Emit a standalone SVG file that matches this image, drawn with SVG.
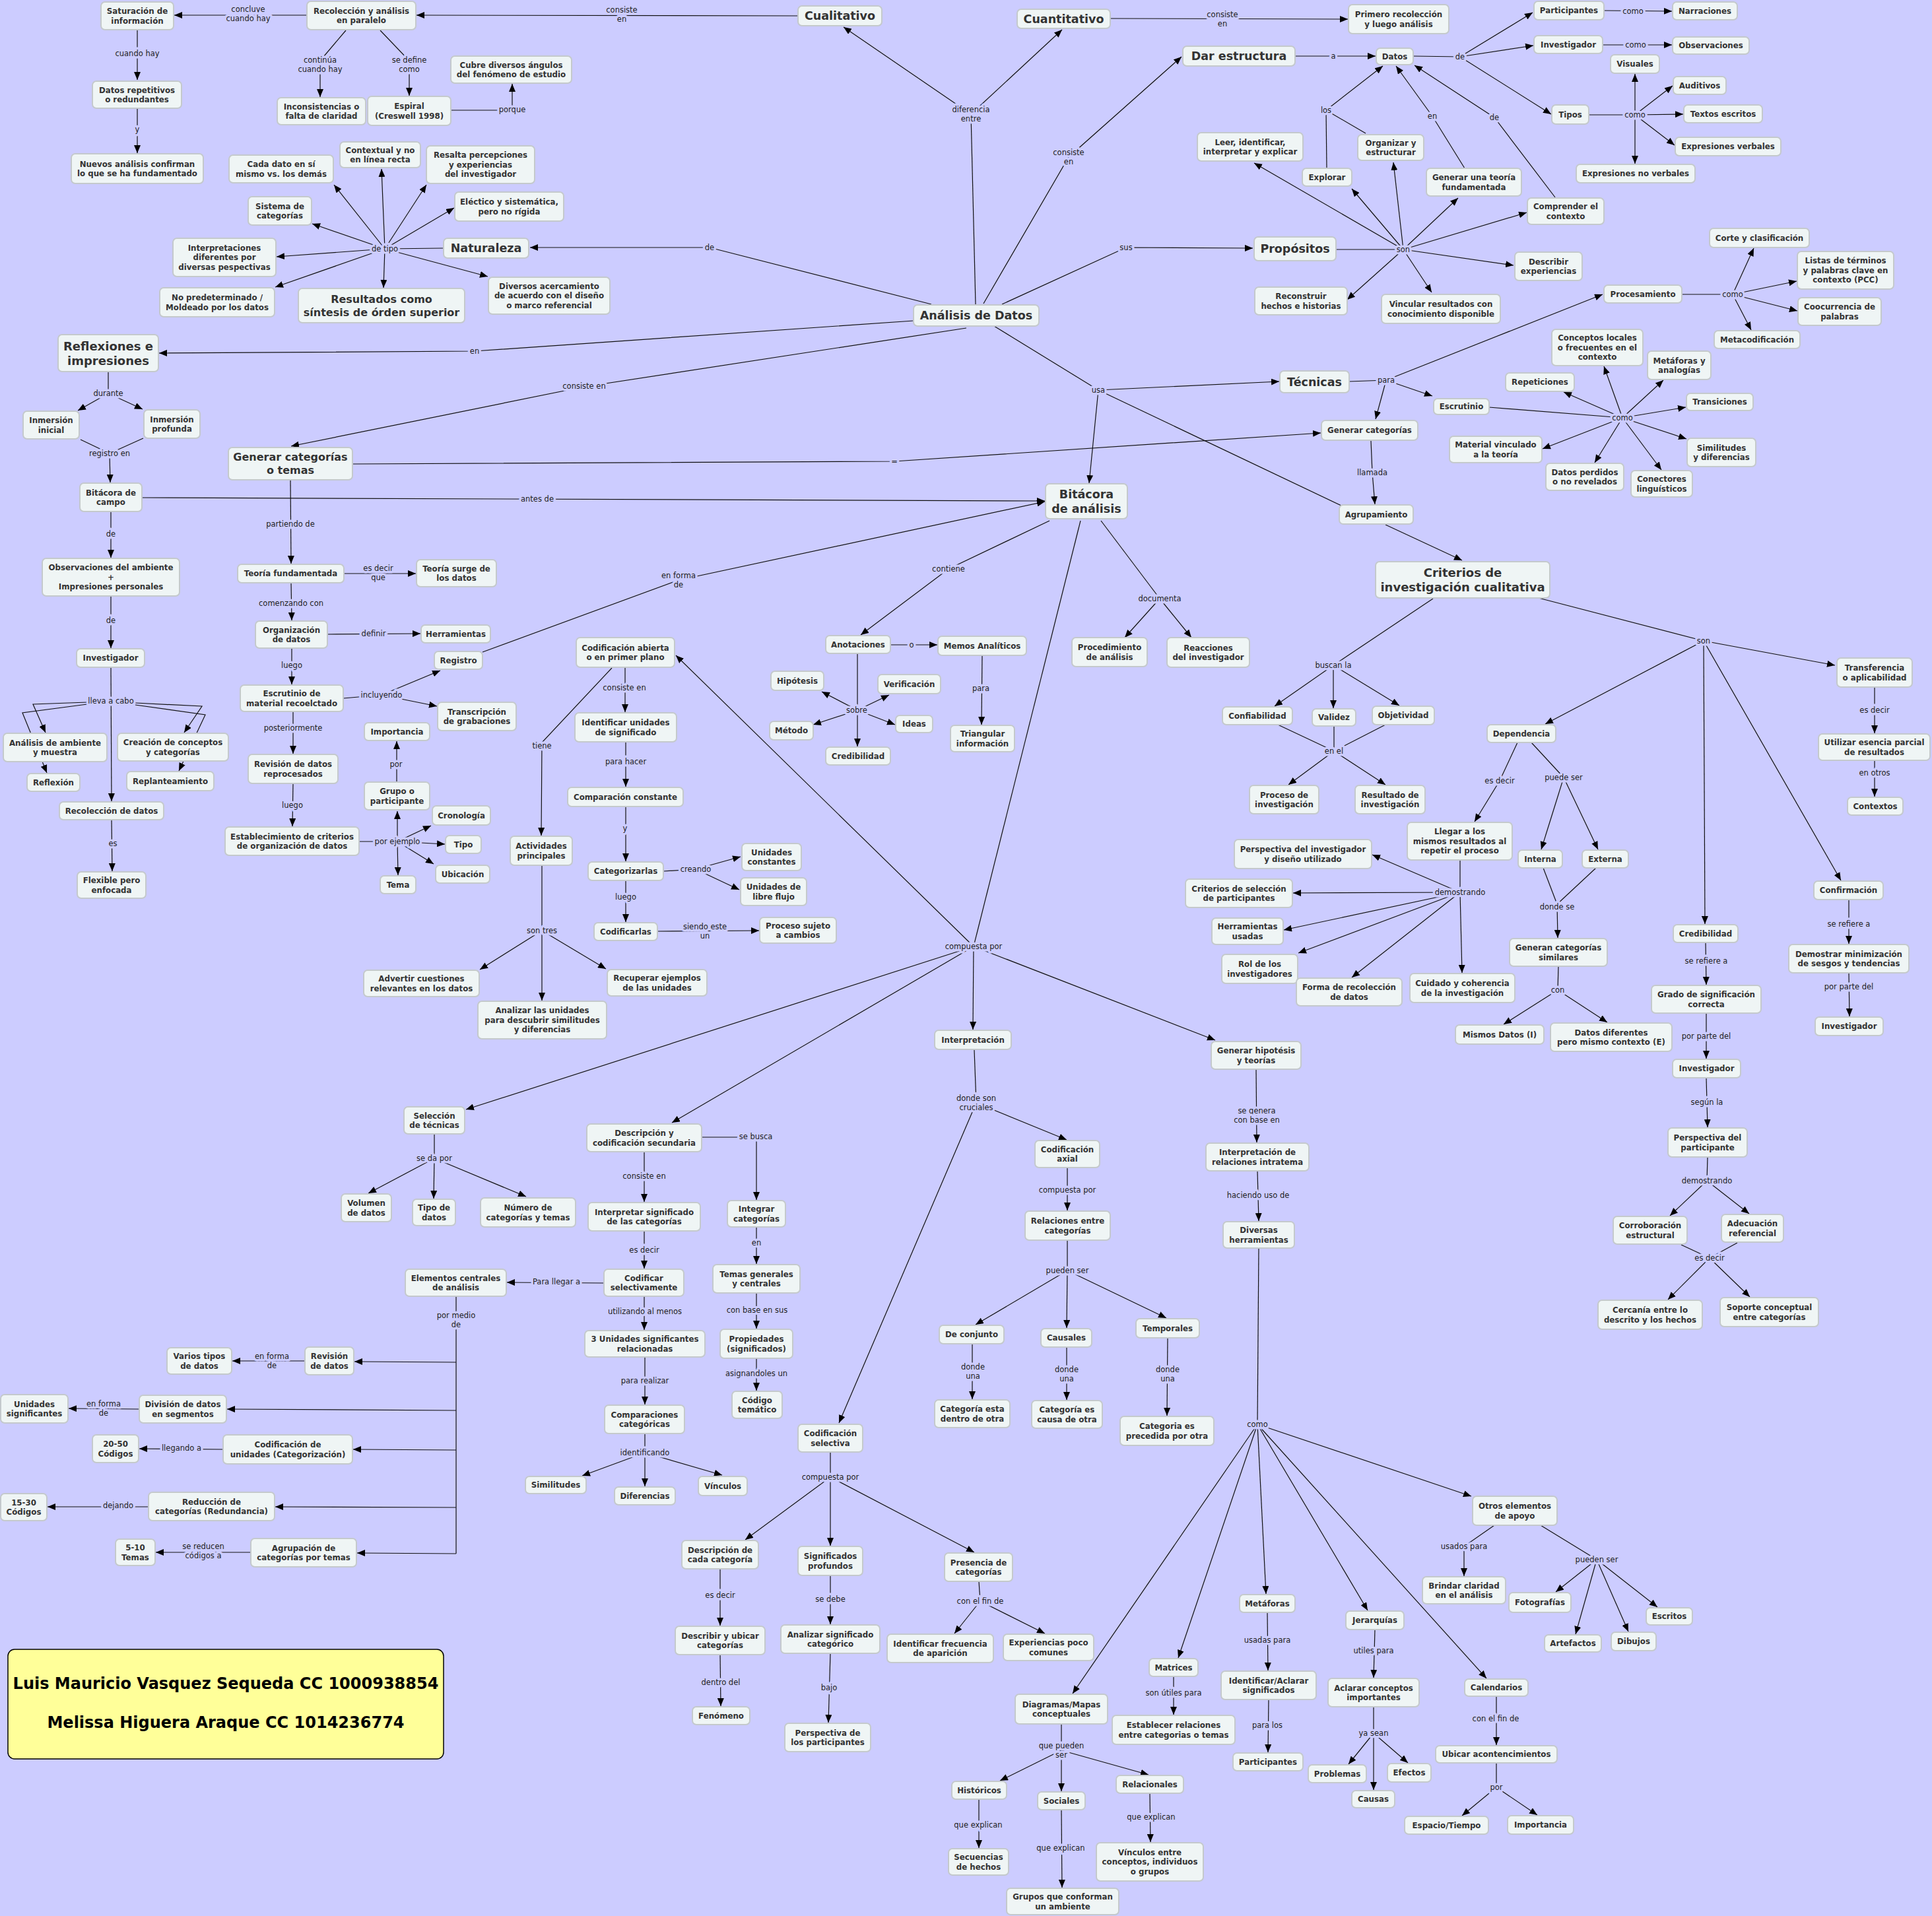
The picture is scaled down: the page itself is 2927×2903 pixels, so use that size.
<svg xmlns="http://www.w3.org/2000/svg" width="2927" height="2903" viewBox="0 0 2927 2903">
<defs>
<marker id="ah" viewBox="0 0 12 10" refX="12" refY="5" markerWidth="12" markerHeight="10" markerUnits="userSpaceOnUse" orient="auto"><path d="M0,0 L12,5 L0,10 z" fill="#000"/></marker>
</defs>
<style>
.c,.a{fill:none;stroke:#111;stroke-width:1.2}
.a{marker-end:url(#ah)}
.l{font-family:"DejaVu Sans",Verdana,sans-serif;font-size:11.5px;fill:#222;text-anchor:middle;stroke:#CCCCFF;stroke-width:7px;paint-order:stroke;stroke-linejoin:round}
#nodes rect{fill:#EFF5F5;stroke:#C4C9CC;stroke-width:2}
.t,.tb,.tm,.tx{font-family:"DejaVu Sans",Verdana,sans-serif;font-weight:bold;fill:#333;text-anchor:middle}
.t{font-size:11.8px}
.tb{font-size:17.5px}
.tm{font-size:16px}
.tx{font-size:18px}
.y{font-family:"DejaVu Sans",Verdana,sans-serif;font-weight:bold;font-size:24px;fill:#000;text-anchor:middle}
</style>
<rect width="2927" height="2903" fill="#CCCCFF"/>
<g id="connectors">
<path class="a" d="M465,23 L264,23"/>
<path class="a" d="M208,45 L208,121"/>
<path class="a" d="M208,164 L208,232"/>
<path class="a" d="M524,46 L485,92 L485,147"/>
<path class="a" d="M576,46 L620,92 L620,145"/>
<path class="a" d="M683,167 L776,167 L776,127"/>
<path class="a" d="M1209,24 L631,23"/>
<path class="c" d="M672,376 L583,377"/>
<path class="a" d="M583,377 L506,280"/>
<path class="a" d="M583,377 L578,256"/>
<path class="a" d="M583,377 L646,280"/>
<path class="a" d="M583,377 L688,315"/>
<path class="a" d="M583,377 L473,339"/>
<path class="a" d="M583,377 L419,389"/>
<path class="a" d="M583,377 L417,435"/>
<path class="a" d="M583,377 L581,436"/>
<path class="a" d="M583,377 L739,419"/>
<path class="a" d="M1411,461 L1075,375 L803,375"/>
<path class="c" d="M1478,461 L1471,173"/>
<path class="a" d="M1471,173 L1278,41"/>
<path class="a" d="M1471,173 L1609,45"/>
<path class="a" d="M1384,486 L719,532 L241,535"/>
<path class="a" d="M1464,497 L885,586 L441,676"/>
<path class="a" d="M534,703 L1355,699 L2001,656"/>
<path class="a" d="M215,754 L1583,759"/>
<path class="a" d="M731,988 L1028,879 L1583,760"/>
<path class="a" d="M1590,789 L1437,862 L1304,962"/>
<path class="a" d="M1490,460 L1619,238 L1790,86"/>
<path class="a" d="M1682,28 L2042,29"/>
<path class="a" d="M1962,85 L2084,85"/>
<path class="c" d="M2010,255 L2009,167"/>
<path class="c" d="M2069,202 L2009,167"/>
<path class="a" d="M2009,167 L2095,100"/>
<path class="a" d="M2219,255 L2170,176 L2115,100"/>
<path class="a" d="M2356,299 L2264,178 L2143,99"/>
<path class="c" d="M2141,85 L2212,86"/>
<path class="a" d="M2212,86 L2322,19"/>
<path class="a" d="M2212,86 L2323,69"/>
<path class="a" d="M2212,86 L2350,173"/>
<path class="a" d="M2430,16 L2533,17"/>
<path class="a" d="M2428,68 L2533,68"/>
<path class="c" d="M2407,174 L2477,174"/>
<path class="a" d="M2477,174 L2477,112"/>
<path class="a" d="M2477,174 L2534,130"/>
<path class="a" d="M2477,174 L2550,173"/>
<path class="a" d="M2477,174 L2537,220"/>
<path class="a" d="M2477,174 L2477,248"/>
<path class="a" d="M1518,461 L1706,375 L1898,376"/>
<path class="c" d="M2024,378 L2126,378"/>
<path class="a" d="M2126,378 L1900,247"/>
<path class="a" d="M2126,378 L2048,286"/>
<path class="a" d="M2126,378 L2111,246"/>
<path class="a" d="M2126,378 L2209,300"/>
<path class="a" d="M2126,378 L2313,322"/>
<path class="a" d="M2126,378 L2293,402"/>
<path class="a" d="M2126,378 L2169,443"/>
<path class="a" d="M2126,378 L2041,454"/>
<path class="c" d="M1506,494 L1664,591"/>
<path class="a" d="M1664,591 L1938,578"/>
<path class="a" d="M1664,591 L1650,732"/>
<path class="c" d="M1664,591 L2034,767"/>
<path class="c" d="M2044,578 L2100,576"/>
<path class="a" d="M2100,576 L2428,446"/>
<path class="a" d="M2100,576 L2170,600"/>
<path class="a" d="M2100,576 L2084,635"/>
<path class="a" d="M2077,668 L2079,716 L2083,764"/>
<path class="a" d="M2099,795 L2215,849"/>
<path class="c" d="M1668,789 L1757,907"/>
<path class="a" d="M1757,907 L1704,966"/>
<path class="a" d="M1757,907 L1805,966"/>
<path class="c" d="M1637,789 L1475,1434"/>
<path class="a" d="M1475,1434 L1024,993"/>
<path class="a" d="M1475,1434 L706,1681"/>
<path class="a" d="M1475,1434 L1018,1701"/>
<path class="a" d="M1475,1434 L1474,1560"/>
<path class="a" d="M1475,1434 L1841,1576"/>
<path class="a" d="M1299,991 L1299,1131"/>
<path class="a" d="M1299,1076 L1245,1048"/>
<path class="a" d="M1299,1076 L1347,1053"/>
<path class="a" d="M1299,1076 L1232,1098"/>
<path class="a" d="M1299,1076 L1356,1098"/>
<path class="a" d="M1349,977 L1420,977"/>
<path class="a" d="M1488,994 L1487,1098"/>
<path class="a" d="M927,1012 L821,1125 L820,1266"/>
<path class="a" d="M947,1012 L947,1079"/>
<path class="a" d="M948,1124 L948,1192"/>
<path class="a" d="M948,1222 L948,1305"/>
<path class="c" d="M1005,1320 L1054,1317"/>
<path class="a" d="M1054,1317 L1122,1298"/>
<path class="a" d="M1054,1317 L1120,1348"/>
<path class="a" d="M948,1334 L948,1397"/>
<path class="a" d="M996,1411 L1150,1410"/>
<path class="c" d="M821,1311 L821,1410"/>
<path class="a" d="M821,1410 L727,1469"/>
<path class="a" d="M821,1410 L821,1516"/>
<path class="a" d="M821,1410 L918,1468"/>
<path class="a" d="M1063,1723 L1146,1723 L1146,1818"/>
<path class="a" d="M976,1745 L976,1821"/>
<path class="a" d="M976,1865 L976,1922"/>
<path class="a" d="M1146,1859 L1146,1915"/>
<path class="a" d="M915,1944 L768,1943"/>
<path class="a" d="M976,1964 L976,2015"/>
<path class="a" d="M1146,1959 L1146,2013"/>
<path class="a" d="M1146,2058 L1146,2107"/>
<path class="a" d="M977,2056 L977,2128"/>
<path class="c" d="M977,2172 L977,2201"/>
<path class="a" d="M977,2201 L882,2236"/>
<path class="a" d="M977,2201 L977,2252"/>
<path class="a" d="M977,2201 L1094,2235"/>
<path class="c" d="M691,1964 L691,2354"/>
<path class="a" d="M691,2064 L537,2063"/>
<path class="a" d="M691,2137 L344,2135"/>
<path class="a" d="M691,2197 L535,2196"/>
<path class="a" d="M691,2284 L417,2283"/>
<path class="a" d="M691,2354 L541,2353"/>
<path class="a" d="M462,2062 L352,2062"/>
<path class="a" d="M211,2135 L104,2134"/>
<path class="a" d="M338,2196 L211,2195"/>
<path class="a" d="M225,2283 L72,2283"/>
<path class="a" d="M380,2352 L236,2352"/>
<path class="c" d="M658,1718 L658,1755"/>
<path class="a" d="M658,1755 L558,1808"/>
<path class="a" d="M658,1755 L657,1816"/>
<path class="a" d="M658,1755 L797,1813"/>
<path class="c" d="M1476,1591 L1479,1671"/>
<path class="a" d="M1479,1671 L1616,1727"/>
<path class="a" d="M1479,1671 L1271,2156"/>
<path class="a" d="M1617,1769 L1617,1834"/>
<path class="c" d="M1617,1879 L1617,1925"/>
<path class="a" d="M1617,1925 L1478,2007"/>
<path class="a" d="M1617,1925 L1616,2012"/>
<path class="a" d="M1617,1925 L1767,1997"/>
<path class="a" d="M1473,2036 L1473,2120"/>
<path class="a" d="M1616,2041 L1616,2121"/>
<path class="a" d="M1769,2027 L1768,2145"/>
<path class="c" d="M1258,2200 L1258,2238"/>
<path class="a" d="M1258,2238 L1129,2333"/>
<path class="a" d="M1258,2238 L1258,2342"/>
<path class="a" d="M1258,2238 L1476,2352"/>
<path class="a" d="M1091,2377 L1091,2463"/>
<path class="a" d="M1091,2507 L1092,2585"/>
<path class="a" d="M1258,2387 L1258,2461"/>
<path class="a" d="M1258,2505 L1255,2610"/>
<path class="c" d="M1483,2396 L1485,2426"/>
<path class="a" d="M1485,2426 L1446,2475"/>
<path class="a" d="M1485,2426 L1583,2475"/>
<path class="a" d="M1903,1620 L1904,1731"/>
<path class="a" d="M1905,1774 L1907,1850"/>
<path class="c" d="M1907,1891 L1905,2158"/>
<path class="a" d="M1905,2158 L1625,2566"/>
<path class="a" d="M1905,2158 L1785,2512"/>
<path class="a" d="M1905,2158 L1918,2415"/>
<path class="a" d="M1905,2158 L2072,2440"/>
<path class="a" d="M1905,2158 L2252,2543"/>
<path class="a" d="M1905,2158 L2229,2267"/>
<path class="a" d="M1920,2443 L1921,2531"/>
<path class="a" d="M1922,2575 L1921,2655"/>
<path class="a" d="M2083,2469 L2081,2542"/>
<path class="c" d="M2081,2586 L2081,2626"/>
<path class="a" d="M2081,2626 L2043,2673"/>
<path class="a" d="M2081,2626 L2081,2712"/>
<path class="a" d="M2081,2626 L2133,2671"/>
<path class="a" d="M1778,2540 L1778,2598"/>
<path class="c" d="M1608,2612 L1608,2652"/>
<path class="a" d="M1608,2652 L1515,2698"/>
<path class="a" d="M1608,2652 L1608,2714"/>
<path class="a" d="M1608,2652 L1740,2689"/>
<path class="a" d="M1483,2726 L1483,2800"/>
<path class="a" d="M1608,2742 L1609,2860"/>
<path class="a" d="M1742,2717 L1743,2791"/>
<path class="a" d="M2264,2311 L2218,2343 L2218,2388"/>
<path class="c" d="M2334,2311 L2419,2363"/>
<path class="a" d="M2419,2363 L2357,2412"/>
<path class="a" d="M2419,2363 L2387,2476"/>
<path class="a" d="M2419,2363 L2467,2472"/>
<path class="a" d="M2419,2363 L2511,2435"/>
<path class="a" d="M2267,2570 L2267,2644"/>
<path class="c" d="M2267,2671 L2267,2708"/>
<path class="a" d="M2267,2708 L2215,2751"/>
<path class="a" d="M2267,2708 L2329,2750"/>
<path class="c" d="M2171,907 L2020,1008"/>
<path class="a" d="M2020,1008 L1931,1070"/>
<path class="a" d="M2020,1008 L2020,1073"/>
<path class="a" d="M2020,1008 L2120,1069"/>
<path class="c" d="M1936,1098 L2021,1138"/>
<path class="c" d="M2021,1100 L2021,1138"/>
<path class="c" d="M2099,1098 L2021,1138"/>
<path class="a" d="M2021,1138 L1952,1189"/>
<path class="a" d="M2021,1138 L2099,1189"/>
<path class="c" d="M2331,906 L2581,971"/>
<path class="a" d="M2581,971 L2341,1097"/>
<path class="a" d="M2581,971 L2583,1400"/>
<path class="a" d="M2581,971 L2789,1334"/>
<path class="a" d="M2581,971 L2780,1008"/>
<path class="a" d="M2840,1041 L2840,1111"/>
<path class="a" d="M2840,1152 L2840,1207"/>
<path class="a" d="M2299,1125 L2272,1183 L2234,1245"/>
<path class="c" d="M2320,1125 L2369,1178"/>
<path class="a" d="M2369,1178 L2335,1287"/>
<path class="a" d="M2369,1178 L2421,1287"/>
<path class="c" d="M2338,1315 L2359,1370"/>
<path class="c" d="M2418,1315 L2359,1370"/>
<path class="a" d="M2359,1370 L2360,1421"/>
<path class="c" d="M2361,1464 L2360,1500"/>
<path class="a" d="M2360,1500 L2278,1552"/>
<path class="a" d="M2360,1500 L2435,1549"/>
<path class="c" d="M2212,1303 L2212,1352"/>
<path class="a" d="M2212,1352 L2215,1474"/>
<path class="a" d="M2212,1352 L2079,1295"/>
<path class="a" d="M2212,1352 L1959,1353"/>
<path class="a" d="M2212,1352 L1945,1409"/>
<path class="a" d="M2212,1352 L1967,1444"/>
<path class="a" d="M2212,1352 L2048,1481"/>
<path class="a" d="M2584,1428 L2585,1492"/>
<path class="a" d="M2585,1535 L2585,1604"/>
<path class="a" d="M2585,1633 L2587,1708"/>
<path class="c" d="M2587,1753 L2586,1789"/>
<path class="a" d="M2586,1789 L2530,1842"/>
<path class="a" d="M2586,1789 L2650,1839"/>
<path class="c" d="M2547,1886 L2590,1906"/>
<path class="c" d="M2632,1883 L2590,1906"/>
<path class="a" d="M2590,1906 L2527,1969"/>
<path class="a" d="M2590,1906 L2651,1965"/>
<path class="a" d="M2801,1363 L2801,1430"/>
<path class="a" d="M2801,1474 L2802,1540"/>
<path class="c" d="M2548,446 L2625,446"/>
<path class="a" d="M2625,446 L2657,376"/>
<path class="a" d="M2625,446 L2722,426"/>
<path class="a" d="M2625,446 L2723,471"/>
<path class="a" d="M2625,446 L2653,500"/>
<path class="c" d="M2256,617 L2458,633"/>
<path class="a" d="M2458,633 L2430,555"/>
<path class="a" d="M2458,633 L2369,594"/>
<path class="a" d="M2458,633 L2520,576"/>
<path class="a" d="M2458,633 L2554,617"/>
<path class="a" d="M2458,633 L2555,665"/>
<path class="a" d="M2458,633 L2517,712"/>
<path class="a" d="M2458,633 L2416,701"/>
<path class="a" d="M2458,633 L2337,680"/>
<path class="c" d="M164,563 L164,596"/>
<path class="a" d="M164,596 L118,622"/>
<path class="a" d="M164,596 L216,620"/>
<path class="c" d="M122,666 L166,687"/>
<path class="c" d="M217,664 L166,687"/>
<path class="a" d="M166,687 L167,731"/>
<path class="a" d="M168,775 L168,845"/>
<path class="a" d="M168,903 L168,982"/>
<path class="a" d="M168,1011 L169,1214"/>
<path class="a" d="M132,1064 L50,1067 L69,1110"/>
<path class="a" d="M132,1067 L34,1080 L71,1171"/>
<path class="a" d="M205,1065 L306,1070 L279,1110"/>
<path class="a" d="M205,1068 L311,1083 L271,1168"/>
<path class="a" d="M169,1242 L170,1320"/>
<path class="a" d="M440,727 L441,854"/>
<path class="a" d="M521,869 L630,869"/>
<path class="a" d="M441,883 L442,940"/>
<path class="a" d="M496,961 L637,960"/>
<path class="a" d="M442,982 L442,1037"/>
<path class="c" d="M520,1058 L578,1053"/>
<path class="a" d="M578,1053 L667,1016"/>
<path class="a" d="M578,1053 L662,1070"/>
<path class="a" d="M444,1078 L444,1142"/>
<path class="a" d="M444,1187 L443,1252"/>
<path class="c" d="M544,1275 L602,1275"/>
<path class="a" d="M602,1275 L602,1229"/>
<path class="a" d="M602,1275 L653,1251"/>
<path class="a" d="M602,1275 L674,1279"/>
<path class="a" d="M602,1275 L657,1309"/>
<path class="a" d="M602,1275 L603,1326"/>
<path class="a" d="M601,1185 L601,1123"/>
<g id="link-labels">
<text class="l" x="376" y="17.75">concluye<tspan x="376" dy="14.5">cuando hay</tspan></text>
<text class="l" x="208" y="85">cuando hay</text>
<text class="l" x="208" y="200">y</text>
<text class="l" x="485" y="94.75">continúa<tspan x="485" dy="14.5">cuando hay</tspan></text>
<text class="l" x="620" y="94.75">se define<tspan x="620" dy="14.5">como</tspan></text>
<text class="l" x="776" y="170">porque</text>
<text class="l" x="942" y="18.75">consiste<tspan x="942" dy="14.5">en</tspan></text>
<text class="l" x="583" y="381">de tipo</text>
<text class="l" x="1075" y="379">de</text>
<text class="l" x="1471" y="169.75">diferencia<tspan x="1471" dy="14.5">entre</tspan></text>
<text class="l" x="719" y="536">en</text>
<text class="l" x="885" y="589">consiste en</text>
<text class="l" x="1355" y="703">=</text>
<text class="l" x="814" y="760">antes de</text>
<text class="l" x="1028" y="875.75">en forma<tspan x="1028" dy="14.5">de</tspan></text>
<text class="l" x="1437" y="866">contiene</text>
<text class="l" x="1619" y="234.75">consiste<tspan x="1619" dy="14.5">en</tspan></text>
<text class="l" x="1852" y="25.75">consiste<tspan x="1852" dy="14.5">en</tspan></text>
<text class="l" x="2020" y="89">a</text>
<text class="l" x="2009" y="171">los</text>
<text class="l" x="2170" y="180">en</text>
<text class="l" x="2264" y="182">de</text>
<text class="l" x="2212" y="90">de</text>
<text class="l" x="2474" y="21">como</text>
<text class="l" x="2478" y="72">como</text>
<text class="l" x="2477" y="178">como</text>
<text class="l" x="1706" y="379">sus</text>
<text class="l" x="2126" y="382">son</text>
<text class="l" x="1664" y="595">usa</text>
<text class="l" x="2100" y="580">para</text>
<text class="l" x="2079" y="720">llamada</text>
<text class="l" x="1757" y="911">documenta</text>
<text class="l" x="1475" y="1438">compuesta por</text>
<text class="l" x="1298" y="1080">sobre</text>
<text class="l" x="1381" y="981">o</text>
<text class="l" x="1486" y="1047">para</text>
<text class="l" x="821" y="1134">tiene</text>
<text class="l" x="946" y="1046">consiste en</text>
<text class="l" x="948" y="1158">para hacer</text>
<text class="l" x="947" y="1259">y</text>
<text class="l" x="1054" y="1321">creando</text>
<text class="l" x="948" y="1363">luego</text>
<text class="l" x="1068" y="1407.75">siendo este<tspan x="1068" dy="14.5">un</tspan></text>
<text class="l" x="821" y="1414">son tres</text>
<text class="l" x="1145" y="1726">se busca</text>
<text class="l" x="976" y="1786">consiste en</text>
<text class="l" x="976" y="1898">es decir</text>
<text class="l" x="1146" y="1887">en</text>
<text class="l" x="843" y="1946">Para llegar a</text>
<text class="l" x="977" y="1991">utilizando al menos</text>
<text class="l" x="1147" y="1989">con base en sus</text>
<text class="l" x="1146" y="2085">asignandoles un</text>
<text class="l" x="977" y="2096">para realizar</text>
<text class="l" x="977" y="2205">identificando</text>
<text class="l" x="691" y="1996.75">por medio<tspan x="691" dy="14.5">de</tspan></text>
<text class="l" x="412" y="2058.75">en forma<tspan x="412" dy="14.5">de</tspan></text>
<text class="l" x="157" y="2130.75">en forma<tspan x="157" dy="14.5">de</tspan></text>
<text class="l" x="275" y="2198">llegando a</text>
<text class="l" x="179" y="2285">dejando</text>
<text class="l" x="308" y="2346.75">se reducen<tspan x="308" dy="14.5">códigos a</tspan></text>
<text class="l" x="658" y="1759">se da por</text>
<text class="l" x="1479" y="1667.75">donde son<tspan x="1479" dy="14.5">cruciales</tspan></text>
<text class="l" x="1617" y="1807">compuesta por</text>
<text class="l" x="1617" y="1929">pueden ser</text>
<text class="l" x="1474" y="2074.75">donde<tspan x="1474" dy="14.5">una</tspan></text>
<text class="l" x="1616" y="2078.75">donde<tspan x="1616" dy="14.5">una</tspan></text>
<text class="l" x="1769" y="2078.75">donde<tspan x="1769" dy="14.5">una</tspan></text>
<text class="l" x="1258" y="2242">compuesta por</text>
<text class="l" x="1091" y="2421">es decir</text>
<text class="l" x="1092" y="2553">dentro del</text>
<text class="l" x="1258" y="2427">se debe</text>
<text class="l" x="1256" y="2561">bajo</text>
<text class="l" x="1485" y="2430">con el fin de</text>
<text class="l" x="1904" y="1686.75">se genera<tspan x="1904" dy="14.5">con base en</tspan></text>
<text class="l" x="1906" y="1815">haciendo uso de</text>
<text class="l" x="1905" y="2162">como</text>
<text class="l" x="1920" y="2489">usadas para</text>
<text class="l" x="1920" y="2618">para los</text>
<text class="l" x="2081" y="2505">utiles para</text>
<text class="l" x="2081" y="2630">ya sean</text>
<text class="l" x="1778" y="2569">son útiles para</text>
<text class="l" x="1608" y="2648.75">que pueden<tspan x="1608" dy="14.5">ser</tspan></text>
<text class="l" x="1482" y="2769">que explican</text>
<text class="l" x="1607" y="2804">que explican</text>
<text class="l" x="1744" y="2757">que explican</text>
<text class="l" x="2218" y="2347">usados para</text>
<text class="l" x="2419" y="2367">pueden ser</text>
<text class="l" x="2266" y="2608">con el fin de</text>
<text class="l" x="2267" y="2712">por</text>
<text class="l" x="2020" y="1012">buscan la</text>
<text class="l" x="2021" y="1142">en el</text>
<text class="l" x="2581" y="975">son</text>
<text class="l" x="2840" y="1080">es decir</text>
<text class="l" x="2840" y="1175">en otros</text>
<text class="l" x="2272" y="1187">es decir</text>
<text class="l" x="2369" y="1182">puede ser</text>
<text class="l" x="2359" y="1378">donde se</text>
<text class="l" x="2360" y="1504">con</text>
<text class="l" x="2212" y="1356">demostrando</text>
<text class="l" x="2585" y="1460">se refiere a</text>
<text class="l" x="2585" y="1574">por parte del</text>
<text class="l" x="2586" y="1674">según la</text>
<text class="l" x="2586" y="1793">demostrando</text>
<text class="l" x="2590" y="1910">es decir</text>
<text class="l" x="2801" y="1404">se refiere a</text>
<text class="l" x="2801" y="1499">por parte del</text>
<text class="l" x="2625" y="450">como</text>
<text class="l" x="2458" y="637">como</text>
<text class="l" x="164" y="600">durante</text>
<text class="l" x="166" y="691">registro en</text>
<text class="l" x="168" y="813">de</text>
<text class="l" x="168" y="944">de</text>
<text class="l" x="168" y="1066">lleva a cabo</text>
<text class="l" x="171" y="1282">es</text>
<text class="l" x="440" y="798">partiendo de</text>
<text class="l" x="573" y="864.75">es decir<tspan x="573" dy="14.5">que</tspan></text>
<text class="l" x="441" y="918">comenzando con</text>
<text class="l" x="566" y="964">definir</text>
<text class="l" x="442" y="1012">luego</text>
<text class="l" x="578" y="1057">incluyendo</text>
<text class="l" x="444" y="1107">posteriormente</text>
<text class="l" x="443" y="1224">luego</text>
<text class="l" x="602" y="1279">por ejemplo</text>
<text class="l" x="600" y="1162">por</text>
</g>
</g>
<g id="nodes">
<g id="n-saturacion"><rect x="153" y="3" width="110" height="42" rx="6"/><text class="t" x="208" y="21">Saturación de<tspan x="208" dy="14.5">información</tspan></text></g>
<g id="n-recoleccion-paralelo"><rect x="465" y="2" width="165" height="43" rx="6"/><text class="t" x="547.5" y="20.5">Recolección y análisis<tspan x="547.5" dy="14.5">en paralelo</tspan></text></g>
<g id="n-datos-repetitivos"><rect x="140" y="123" width="135" height="41" rx="6"/><text class="t" x="207.5" y="140.5">Datos repetitivos<tspan x="207.5" dy="14.5">o redundantes</tspan></text></g>
<g id="n-nuevos-analisis"><rect x="108" y="233" width="200" height="45" rx="6"/><text class="t" x="208" y="252.5">Nuevos análisis confirman<tspan x="208" dy="14.5">lo que se ha fundamentado</tspan></text></g>
<g id="n-inconsistencias"><rect x="420" y="148" width="134" height="41" rx="6"/><text class="t" x="487" y="165.5">Inconsistencias o<tspan x="487" dy="14.5">falta de claridad</tspan></text></g>
<g id="n-espiral"><rect x="557" y="146" width="126" height="44" rx="6"/><text class="t" x="620" y="165">Espiral<tspan x="620" dy="14.5">(Creswell 1998)</tspan></text></g>
<g id="n-cubre"><rect x="683" y="85" width="183" height="41" rx="6"/><text class="t" x="774.5" y="102.5">Cubre diversos ángulos<tspan x="774.5" dy="14.5">del fenómeno de estudio</tspan></text></g>
<g id="n-cada-dato"><rect x="347" y="235" width="158" height="42" rx="6"/><text class="t" x="426" y="253">Cada dato en sí<tspan x="426" dy="14.5">mismo vs. los demás</tspan></text></g>
<g id="n-contextual"><rect x="515" y="215" width="122" height="39" rx="6"/><text class="t" x="576" y="231.5">Contextual y no<tspan x="576" dy="14.5">en línea recta</tspan></text></g>
<g id="n-resalta"><rect x="646" y="221" width="164" height="57" rx="6"/><text class="t" x="728" y="239.2">Resalta percepciones<tspan x="728" dy="14.5">y experiencias</tspan><tspan x="728" dy="14.5">del investigador</tspan></text></g>
<g id="n-electico"><rect x="689" y="291" width="165" height="44" rx="6"/><text class="t" x="771.5" y="310">Eléctico y sistemática,<tspan x="771.5" dy="14.5">pero no rígida</tspan></text></g>
<g id="n-sistema"><rect x="376" y="298" width="96" height="43" rx="6"/><text class="t" x="424" y="316.5">Sistema de<tspan x="424" dy="14.5">categorías</tspan></text></g>
<g id="n-interpretaciones"><rect x="262" y="361" width="156" height="58" rx="6"/><text class="t" x="340" y="379.7">Interpretaciones<tspan x="340" dy="14.5">diferentes por</tspan><tspan x="340" dy="14.5">diversas pespectivas</tspan></text></g>
<g id="n-no-predeterminado"><rect x="242" y="436" width="174" height="44" rx="6"/><text class="t" x="329" y="455">No predeterminado /<tspan x="329" dy="14.5">Moldeado por los datos</tspan></text></g>
<g id="n-resultados"><rect x="452" y="437" width="252" height="52" rx="6"/><text class="tm" x="578" y="458.8">Resultados como<tspan x="578" dy="20">síntesis de órden superior</tspan></text></g>
<g id="n-naturaleza"><rect x="672" y="361" width="129" height="30" rx="6"/><text class="tb" x="736.5" y="382.3">Naturaleza</text></g>
<g id="n-diversos"><rect x="740" y="420" width="184" height="56" rx="6"/><text class="t" x="832" y="437.7">Diversos acercamiento<tspan x="832" dy="14.5">de acuerdo con el diseño</tspan><tspan x="832" dy="14.5">o marco referencial</tspan></text></g>
<g id="n-reflexiones"><rect x="88" y="507" width="152" height="56" rx="6"/><text class="tx" x="164" y="530.5">Reflexiones e<tspan x="164" dy="22">impresiones</tspan></text></g>
<g id="n-inmersion-inicial"><rect x="35" y="623" width="85" height="42" rx="6"/><text class="t" x="77.5" y="641">Inmersión<tspan x="77.5" dy="14.5">inicial</tspan></text></g>
<g id="n-inmersion-profunda"><rect x="218" y="621" width="85" height="43" rx="6"/><text class="t" x="260.5" y="639.5">Inmersión<tspan x="260.5" dy="14.5">profunda</tspan></text></g>
<g id="n-bitacora-campo"><rect x="121" y="732" width="94" height="43" rx="6"/><text class="t" x="168" y="750.5">Bitácora de<tspan x="168" dy="14.5">campo</tspan></text></g>
<g id="n-generar-categorias-temas"><rect x="346" y="678" width="188" height="49" rx="6"/><text class="tm" x="440" y="698.3">Generar categorías<tspan x="440" dy="20">o temas</tspan></text></g>
<g id="n-observaciones-ambiente"><rect x="64" y="846" width="208" height="57" rx="6"/><text class="t" x="168" y="864.2">Observaciones del ambiente<tspan x="168" dy="14.5">+</tspan><tspan x="168" dy="14.5">Impresiones personales</tspan></text></g>
<g id="n-teoria-fundamentada"><rect x="360" y="855" width="161" height="28" rx="6"/><text class="t" x="440.5" y="873.2">Teoría fundamentada</text></g>
<g id="n-teoria-surge"><rect x="631" y="848" width="121" height="41" rx="6"/><text class="t" x="691.5" y="865.5">Teoría surge de<tspan x="691.5" dy="14.5">los datos</tspan></text></g>
<g id="n-organizacion"><rect x="387" y="941" width="109" height="41" rx="6"/><text class="t" x="441.5" y="958.5">Organización<tspan x="441.5" dy="14.5">de datos</tspan></text></g>
<g id="n-herramientas"><rect x="638" y="947" width="105" height="27" rx="6"/><text class="t" x="690.5" y="964.7">Herramientas</text></g>
<g id="n-investigador-1"><rect x="116" y="983" width="103" height="28" rx="6"/><text class="t" x="167.5" y="1001.2">Investigador</text></g>
<g id="n-analisis-ambiente"><rect x="5" y="1111" width="157" height="43" rx="6"/><text class="t" x="83.5" y="1129.5">Análisis de ambiente<tspan x="83.5" dy="14.5">y muestra</tspan></text></g>
<g id="n-reflexion"><rect x="41" y="1172" width="80" height="27" rx="6"/><text class="t" x="81" y="1189.7">Reflexión</text></g>
<g id="n-creacion"><rect x="178" y="1111" width="168" height="42" rx="6"/><text class="t" x="262" y="1129">Creación de conceptos<tspan x="262" dy="14.5">y categorías</tspan></text></g>
<g id="n-replanteamiento"><rect x="192" y="1169" width="132" height="29" rx="6"/><text class="t" x="258" y="1187.7">Replanteamiento</text></g>
<g id="n-recoleccion-datos"><rect x="90" y="1215" width="158" height="27" rx="6"/><text class="t" x="169" y="1232.7">Recolección de datos</text></g>
<g id="n-flexible"><rect x="117" y="1321" width="104" height="40" rx="6"/><text class="t" x="169" y="1338">Flexible pero<tspan x="169" dy="14.5">enfocada</tspan></text></g>
<g id="n-escrutinio-material"><rect x="364" y="1038" width="156" height="40" rx="6"/><text class="t" x="442" y="1055">Escrutinio de<tspan x="442" dy="14.5">material recoelctado</tspan></text></g>
<g id="n-registro"><rect x="658" y="987" width="73" height="27" rx="6"/><text class="t" x="694.5" y="1004.7">Registro</text></g>
<g id="n-transcripcion"><rect x="663" y="1064" width="119" height="43" rx="6"/><text class="t" x="722.5" y="1082.5">Transcripción<tspan x="722.5" dy="14.5">de grabaciones</tspan></text></g>
<g id="n-revision-reprocesados"><rect x="376" y="1143" width="136" height="44" rx="6"/><text class="t" x="444" y="1162">Revisión de datos<tspan x="444" dy="14.5">reprocesados</tspan></text></g>
<g id="n-establecimiento"><rect x="341" y="1253" width="203" height="43" rx="6"/><text class="t" x="442.5" y="1271.5">Establecimiento de criterios<tspan x="442.5" dy="14.5">de organización de datos</tspan></text></g>
<g id="n-importancia-1"><rect x="552" y="1095" width="99" height="27" rx="6"/><text class="t" x="601.5" y="1112.7">Importancia</text></g>
<g id="n-grupo"><rect x="552" y="1185" width="99" height="42" rx="6"/><text class="t" x="601.5" y="1203">Grupo o<tspan x="601.5" dy="14.5">participante</tspan></text></g>
<g id="n-cronologia"><rect x="655" y="1221" width="88" height="29" rx="6"/><text class="t" x="699" y="1239.7">Cronología</text></g>
<g id="n-tipo"><rect x="675" y="1266" width="54" height="27" rx="6"/><text class="t" x="702" y="1283.7">Tipo</text></g>
<g id="n-ubicacion"><rect x="660" y="1311" width="82" height="27" rx="6"/><text class="t" x="701" y="1328.7">Ubicación</text></g>
<g id="n-tema"><rect x="576" y="1327" width="54" height="27" rx="6"/><text class="t" x="603" y="1344.7">Tema</text></g>
<g id="n-codificacion-abierta"><rect x="873" y="966" width="149" height="45" rx="6"/><text class="t" x="947.5" y="985.5">Codificación abierta<tspan x="947.5" dy="14.5">o en primer plano</tspan></text></g>
<g id="n-identificar-unidades"><rect x="871" y="1080" width="154" height="44" rx="6"/><text class="t" x="948" y="1099">Identificar unidades<tspan x="948" dy="14.5">de significado</tspan></text></g>
<g id="n-comparacion"><rect x="860" y="1193" width="175" height="29" rx="6"/><text class="t" x="947.5" y="1211.7">Comparación constante</text></g>
<g id="n-categorizarlas"><rect x="891" y="1306" width="114" height="28" rx="6"/><text class="t" x="948" y="1324.2">Categorizarlas</text></g>
<g id="n-unidades-constantes"><rect x="1124" y="1278" width="90" height="41" rx="6"/><text class="t" x="1169" y="1295.5">Unidades<tspan x="1169" dy="14.5">constantes</tspan></text></g>
<g id="n-unidades-libre"><rect x="1122" y="1330" width="100" height="42" rx="6"/><text class="t" x="1172" y="1348">Unidades de<tspan x="1172" dy="14.5">libre flujo</tspan></text></g>
<g id="n-codificarlas"><rect x="900" y="1398" width="96" height="27" rx="6"/><text class="t" x="948" y="1415.7">Codificarlas</text></g>
<g id="n-proceso-sujeto"><rect x="1151" y="1390" width="116" height="39" rx="6"/><text class="t" x="1209" y="1406.5">Proceso sujeto<tspan x="1209" dy="14.5">a cambios</tspan></text></g>
<g id="n-actividades"><rect x="773" y="1267" width="94" height="44" rx="6"/><text class="t" x="820" y="1286">Actividades<tspan x="820" dy="14.5">principales</tspan></text></g>
<g id="n-advertir"><rect x="551" y="1470" width="175" height="40" rx="6"/><text class="t" x="638.5" y="1487">Advertir cuestiones<tspan x="638.5" dy="14.5">relevantes en los datos</tspan></text></g>
<g id="n-analizar-unidades"><rect x="724" y="1517" width="195" height="57" rx="6"/><text class="t" x="821.5" y="1535.2">Analizar las unidades<tspan x="821.5" dy="14.5">para descubrir similitudes</tspan><tspan x="821.5" dy="14.5">y diferencias</tspan></text></g>
<g id="n-recuperar"><rect x="920" y="1469" width="151" height="40" rx="6"/><text class="t" x="995.5" y="1486">Recuperar ejemplos<tspan x="995.5" dy="14.5">de las unidades</tspan></text></g>
<g id="n-anotaciones"><rect x="1251" y="963" width="98" height="27" rx="6"/><text class="t" x="1300" y="980.7">Anotaciones</text></g>
<g id="n-memos"><rect x="1421" y="964" width="134" height="29" rx="6"/><text class="t" x="1488" y="982.7">Memos Analíticos</text></g>
<g id="n-hipotesis"><rect x="1168" y="1017" width="80" height="29" rx="6"/><text class="t" x="1208" y="1035.7">Hipótesis</text></g>
<g id="n-verificacion"><rect x="1330" y="1022" width="95" height="29" rx="6"/><text class="t" x="1377.5" y="1040.7">Verificación</text></g>
<g id="n-metodo"><rect x="1166" y="1093" width="66" height="28" rx="6"/><text class="t" x="1199" y="1111.2">Método</text></g>
<g id="n-ideas"><rect x="1357" y="1084" width="56" height="26" rx="6"/><text class="t" x="1385" y="1101.2">Ideas</text></g>
<g id="n-credibilidad-1"><rect x="1251" y="1132" width="98" height="27" rx="6"/><text class="t" x="1300" y="1149.7">Credibilidad</text></g>
<g id="n-triangular"><rect x="1440" y="1099" width="97" height="40" rx="6"/><text class="t" x="1488.5" y="1116">Triangular<tspan x="1488.5" dy="14.5">información</tspan></text></g>
<g id="n-procedimiento"><rect x="1624" y="966" width="114" height="44" rx="6"/><text class="t" x="1681" y="985">Procedimiento<tspan x="1681" dy="14.5">de análisis</tspan></text></g>
<g id="n-reacciones"><rect x="1768" y="966" width="125" height="45" rx="6"/><text class="t" x="1830.5" y="985.5">Reacciones<tspan x="1830.5" dy="14.5">del investigador</tspan></text></g>
<g id="n-analisis-datos"><rect x="1384" y="462" width="190" height="32" rx="6"/><text class="tb" x="1479" y="484.3">Análisis de Datos</text></g>
<g id="n-cualitativo"><rect x="1209" y="9" width="127" height="30" rx="6"/><text class="tb" x="1272.5" y="30.3">Cualitativo</text></g>
<g id="n-cuantitativo"><rect x="1541" y="14" width="141" height="29" rx="6"/><text class="tb" x="1611.5" y="34.8">Cuantitativo</text></g>
<g id="n-primero"><rect x="2043" y="7" width="152" height="44" rx="6"/><text class="t" x="2119" y="26">Primero recolección<tspan x="2119" dy="14.5">y luego análisis</tspan></text></g>
<g id="n-dar-estructura"><rect x="1792" y="70" width="170" height="30" rx="6"/><text class="tb" x="1877" y="91.3">Dar estructura</text></g>
<g id="n-datos"><rect x="2085" y="73" width="56" height="25" rx="6"/><text class="t" x="2113" y="89.7">Datos</text></g>
<g id="n-leer"><rect x="1814" y="201" width="160" height="43" rx="6"/><text class="t" x="1894" y="219.5">Leer, identificar,<tspan x="1894" dy="14.5">interpretar y explicar</tspan></text></g>
<g id="n-organizar"><rect x="2057" y="204" width="100" height="39" rx="6"/><text class="t" x="2107" y="220.5">Organizar y<tspan x="2107" dy="14.5">estructurar</tspan></text></g>
<g id="n-explorar"><rect x="1973" y="255" width="75" height="27" rx="6"/><text class="t" x="2010.5" y="272.7">Explorar</text></g>
<g id="n-generar-teoria"><rect x="2161" y="255" width="144" height="42" rx="6"/><text class="t" x="2233" y="273">Generar una teoría<tspan x="2233" dy="14.5">fundamentada</tspan></text></g>
<g id="n-comprender"><rect x="2314" y="300" width="116" height="40" rx="6"/><text class="t" x="2372" y="317">Comprender el<tspan x="2372" dy="14.5">contexto</tspan></text></g>
<g id="n-describir-experiencias"><rect x="2295" y="382" width="102" height="43" rx="6"/><text class="t" x="2346" y="400.5">Describir<tspan x="2346" dy="14.5">experiencias</tspan></text></g>
<g id="n-propositos"><rect x="1900" y="359" width="124" height="36" rx="6"/><text class="tb" x="1962" y="383.3">Propósitos</text></g>
<g id="n-reconstruir"><rect x="1901" y="435" width="140" height="42" rx="6"/><text class="t" x="1971" y="453">Reconstruir<tspan x="1971" dy="14.5">hechos e historias</tspan></text></g>
<g id="n-vincular"><rect x="2093" y="446" width="180" height="44" rx="6"/><text class="t" x="2183" y="465">Vincular resultados con<tspan x="2183" dy="14.5">conocimiento disponible</tspan></text></g>
<g id="n-participantes-1"><rect x="2324" y="2" width="106" height="28" rx="6"/><text class="t" x="2377" y="20.2">Participantes</text></g>
<g id="n-narraciones"><rect x="2534" y="3" width="98" height="27" rx="6"/><text class="t" x="2583" y="20.7">Narraciones</text></g>
<g id="n-investigador-2"><rect x="2324" y="54" width="104" height="27" rx="6"/><text class="t" x="2376" y="71.7">Investigador</text></g>
<g id="n-observaciones"><rect x="2534" y="56" width="116" height="26" rx="6"/><text class="t" x="2592" y="73.2">Observaciones</text></g>
<g id="n-tipos"><rect x="2351" y="159" width="56" height="29" rx="6"/><text class="t" x="2379" y="177.7">Tipos</text></g>
<g id="n-visuales"><rect x="2440" y="83" width="74" height="28" rx="6"/><text class="t" x="2477" y="101.2">Visuales</text></g>
<g id="n-auditivos"><rect x="2535" y="116" width="80" height="27" rx="6"/><text class="t" x="2575" y="133.7">Auditivos</text></g>
<g id="n-textos"><rect x="2551" y="159" width="119" height="27" rx="6"/><text class="t" x="2610.5" y="176.7">Textos escritos</text></g>
<g id="n-expresiones-verbales"><rect x="2538" y="208" width="160" height="28" rx="6"/><text class="t" x="2618" y="226.2">Expresiones verbales</text></g>
<g id="n-expresiones-no-verbales"><rect x="2388" y="249" width="180" height="28" rx="6"/><text class="t" x="2478" y="267.2">Expresiones no verbales</text></g>
<g id="n-tecnicas"><rect x="1939" y="562" width="105" height="33" rx="6"/><text class="tb" x="1991.5" y="584.8">Técnicas</text></g>
<g id="n-generar-categorias"><rect x="2002" y="637" width="146" height="30" rx="6"/><text class="t" x="2075" y="656.2">Generar categorías</text></g>
<g id="n-agrupamiento"><rect x="2029" y="765" width="112" height="29" rx="6"/><text class="t" x="2085" y="783.7">Agrupamiento</text></g>
<g id="n-bitacora-analisis"><rect x="1584" y="733" width="124" height="53" rx="6"/><text class="tb" x="1646" y="755">Bitácora<tspan x="1646" dy="21.5">de análisis</tspan></text></g>
<g id="n-escrutinio"><rect x="2172" y="604" width="84" height="24" rx="6"/><text class="t" x="2214" y="620.2">Escrutinio</text></g>
<g id="n-criterios"><rect x="2084" y="851" width="264" height="55" rx="6"/><text class="tx" x="2216" y="874">Criterios de<tspan x="2216" dy="22">investigación cualitativa</tspan></text></g>
<g id="n-procesamiento"><rect x="2430" y="432" width="118" height="27" rx="6"/><text class="t" x="2489" y="449.7">Procesamiento</text></g>
<g id="n-corte"><rect x="2590" y="346" width="151" height="29" rx="6"/><text class="t" x="2665.5" y="364.7">Corte y clasificación</text></g>
<g id="n-listas"><rect x="2723" y="381" width="146" height="57" rx="6"/><text class="t" x="2796" y="399.2">Listas de términos<tspan x="2796" dy="14.5">y palabras clave en</tspan><tspan x="2796" dy="14.5">contexto (PCC)</tspan></text></g>
<g id="n-coocurrencia"><rect x="2724" y="451" width="126" height="42" rx="6"/><text class="t" x="2787" y="469">Coocurrencia de<tspan x="2787" dy="14.5">palabras</tspan></text></g>
<g id="n-metacodificacion"><rect x="2597" y="501" width="130" height="27" rx="6"/><text class="t" x="2662" y="518.7">Metacodificación</text></g>
<g id="n-conceptos-locales"><rect x="2351" y="499" width="138" height="55" rx="6"/><text class="t" x="2420" y="516.2">Conceptos locales<tspan x="2420" dy="14.5">o frecuentes en el</tspan><tspan x="2420" dy="14.5">contexto</tspan></text></g>
<g id="n-metaforas-analogias"><rect x="2496" y="532" width="96" height="43" rx="6"/><text class="t" x="2544" y="550.5">Metáforas y<tspan x="2544" dy="14.5">analogías</tspan></text></g>
<g id="n-repeticiones"><rect x="2281" y="565" width="104" height="28" rx="6"/><text class="t" x="2333" y="583.2">Repeticiones</text></g>
<g id="n-transiciones"><rect x="2555" y="596" width="101" height="26" rx="6"/><text class="t" x="2605.5" y="613.2">Transiciones</text></g>
<g id="n-material"><rect x="2196" y="661" width="140" height="40" rx="6"/><text class="t" x="2266" y="678">Material vinculado<tspan x="2266" dy="14.5">a la teoría</tspan></text></g>
<g id="n-datos-perdidos"><rect x="2342" y="702" width="118" height="41" rx="6"/><text class="t" x="2401" y="719.5">Datos perdidos<tspan x="2401" dy="14.5">o no revelados</tspan></text></g>
<g id="n-conectores"><rect x="2471" y="713" width="93" height="40" rx="6"/><text class="t" x="2517.5" y="730">Conectores<tspan x="2517.5" dy="14.5">linguísticos</tspan></text></g>
<g id="n-similitudes-diferencias"><rect x="2556" y="664" width="104" height="43" rx="6"/><text class="t" x="2608" y="682.5">Similitudes<tspan x="2608" dy="14.5">y diferencias</tspan></text></g>
<g id="n-confiabilidad"><rect x="1852" y="1071" width="106" height="27" rx="6"/><text class="t" x="1905" y="1088.7">Confiabilidad</text></g>
<g id="n-validez"><rect x="1988" y="1074" width="66" height="26" rx="6"/><text class="t" x="2021" y="1091.2">Validez</text></g>
<g id="n-objetividad"><rect x="2079" y="1070" width="94" height="28" rx="6"/><text class="t" x="2126" y="1088.2">Objetividad</text></g>
<g id="n-proceso-investigacion"><rect x="1893" y="1190" width="105" height="43" rx="6"/><text class="t" x="1945.5" y="1208.5">Proceso de<tspan x="1945.5" dy="14.5">investigación</tspan></text></g>
<g id="n-resultado-investigacion"><rect x="2053" y="1190" width="106" height="43" rx="6"/><text class="t" x="2106" y="1208.5">Resultado de<tspan x="2106" dy="14.5">investigación</tspan></text></g>
<g id="n-llegar"><rect x="2132" y="1246" width="159" height="57" rx="6"/><text class="t" x="2211.5" y="1264.2">Llegar a los<tspan x="2211.5" dy="14.5">mismos resultados al</tspan><tspan x="2211.5" dy="14.5">repetir el proceso</tspan></text></g>
<g id="n-perspectiva-investigador"><rect x="1870" y="1272" width="208" height="44" rx="6"/><text class="t" x="1974" y="1291">Perspectiva del investigador<tspan x="1974" dy="14.5">y diseño utilizado</tspan></text></g>
<g id="n-criterios-seleccion"><rect x="1796" y="1332" width="162" height="43" rx="6"/><text class="t" x="1877" y="1350.5">Criterios de selección<tspan x="1877" dy="14.5">de participantes</tspan></text></g>
<g id="n-herramientas-usadas"><rect x="1836" y="1391" width="108" height="40" rx="6"/><text class="t" x="1890" y="1408">Herramientas<tspan x="1890" dy="14.5">usadas</tspan></text></g>
<g id="n-rol"><rect x="1851" y="1446" width="115" height="44" rx="6"/><text class="t" x="1908.5" y="1465">Rol de los<tspan x="1908.5" dy="14.5">investigadores</tspan></text></g>
<g id="n-forma"><rect x="1964" y="1482" width="160" height="42" rx="6"/><text class="t" x="2044" y="1500">Forma de recolección<tspan x="2044" dy="14.5">de datos</tspan></text></g>
<g id="n-cuidado"><rect x="2136" y="1475" width="159" height="44" rx="6"/><text class="t" x="2215.5" y="1494">Cuidado y coherencia<tspan x="2215.5" dy="14.5">de la investigación</tspan></text></g>
<g id="n-dependencia"><rect x="2253" y="1098" width="104" height="27" rx="6"/><text class="t" x="2305" y="1115.7">Dependencia</text></g>
<g id="n-transferencia"><rect x="2783" y="997" width="114" height="44" rx="6"/><text class="t" x="2840" y="1016">Transferencia<tspan x="2840" dy="14.5">o aplicabilidad</tspan></text></g>
<g id="n-utilizar"><rect x="2755" y="1112" width="169" height="40" rx="6"/><text class="t" x="2839.5" y="1129">Utilizar esencia parcial<tspan x="2839.5" dy="14.5">de resultados</tspan></text></g>
<g id="n-contextos"><rect x="2799" y="1208" width="84" height="27" rx="6"/><text class="t" x="2841" y="1225.7">Contextos</text></g>
<g id="n-interna"><rect x="2300" y="1288" width="67" height="27" rx="6"/><text class="t" x="2333.5" y="1305.7">Interna</text></g>
<g id="n-externa"><rect x="2397" y="1288" width="70" height="27" rx="6"/><text class="t" x="2432" y="1305.7">Externa</text></g>
<g id="n-generan"><rect x="2287" y="1422" width="148" height="42" rx="6"/><text class="t" x="2361" y="1440">Generan categorías<tspan x="2361" dy="14.5">similares</tspan></text></g>
<g id="n-mismos-datos"><rect x="2205" y="1553" width="134" height="29" rx="6"/><text class="t" x="2272" y="1571.7">Mismos Datos (I)</text></g>
<g id="n-datos-diferentes"><rect x="2349" y="1550" width="184" height="43" rx="6"/><text class="t" x="2441" y="1568.5">Datos diferentes<tspan x="2441" dy="14.5">pero mismo contexto (E)</tspan></text></g>
<g id="n-credibilidad-2"><rect x="2535" y="1401" width="98" height="27" rx="6"/><text class="t" x="2584" y="1418.7">Credibilidad</text></g>
<g id="n-grado"><rect x="2502" y="1493" width="166" height="42" rx="6"/><text class="t" x="2585" y="1511">Grado de significación<tspan x="2585" dy="14.5">correcta</tspan></text></g>
<g id="n-investigador-3"><rect x="2534" y="1605" width="103" height="28" rx="6"/><text class="t" x="2585.5" y="1623.2">Investigador</text></g>
<g id="n-perspectiva-participante"><rect x="2527" y="1709" width="120" height="44" rx="6"/><text class="t" x="2587" y="1728">Perspectiva del<tspan x="2587" dy="14.5">participante</tspan></text></g>
<g id="n-corroboracion"><rect x="2444" y="1843" width="112" height="42" rx="6"/><text class="t" x="2500" y="1861">Corroboración<tspan x="2500" dy="14.5">estructural</tspan></text></g>
<g id="n-adecuacion"><rect x="2608" y="1840" width="94" height="42" rx="6"/><text class="t" x="2655" y="1858">Adecuación<tspan x="2655" dy="14.5">referencial</tspan></text></g>
<g id="n-cercania"><rect x="2421" y="1970" width="158" height="44" rx="6"/><text class="t" x="2500" y="1989">Cercanía entre lo<tspan x="2500" dy="14.5">descrito y los hechos</tspan></text></g>
<g id="n-soporte"><rect x="2606" y="1966" width="149" height="44" rx="6"/><text class="t" x="2680.5" y="1985">Soporte conceptual<tspan x="2680.5" dy="14.5">entre categorías</tspan></text></g>
<g id="n-confirmacion"><rect x="2748" y="1335" width="105" height="28" rx="6"/><text class="t" x="2800.5" y="1353.2">Confirmación</text></g>
<g id="n-demostrar"><rect x="2710" y="1431" width="182" height="43" rx="6"/><text class="t" x="2801" y="1449.5">Demostrar minimización<tspan x="2801" dy="14.5">de sesgos y tendencias</tspan></text></g>
<g id="n-investigador-4"><rect x="2750" y="1541" width="103" height="28" rx="6"/><text class="t" x="2801.5" y="1559.2">Investigador</text></g>
<g id="n-seleccion"><rect x="612" y="1677" width="92" height="41" rx="6"/><text class="t" x="658" y="1694.5">Selección<tspan x="658" dy="14.5">de técnicas</tspan></text></g>
<g id="n-volumen"><rect x="517" y="1809" width="76" height="42" rx="6"/><text class="t" x="555" y="1827">Volumen<tspan x="555" dy="14.5">de datos</tspan></text></g>
<g id="n-tipo-datos"><rect x="625" y="1817" width="65" height="40" rx="6"/><text class="t" x="657.5" y="1834">Tipo de<tspan x="657.5" dy="14.5">datos</tspan></text></g>
<g id="n-numero"><rect x="728" y="1815" width="144" height="44" rx="6"/><text class="t" x="800" y="1834">Número de<tspan x="800" dy="14.5">categorías y temas</tspan></text></g>
<g id="n-descripcion-secundaria"><rect x="889" y="1703" width="174" height="42" rx="6"/><text class="t" x="976" y="1721">Descripción y<tspan x="976" dy="14.5">codificación secundaria</tspan></text></g>
<g id="n-interpretar"><rect x="891" y="1822" width="170" height="43" rx="6"/><text class="t" x="976" y="1840.5">Interpretar significado<tspan x="976" dy="14.5">de las categorías</tspan></text></g>
<g id="n-integrar"><rect x="1102" y="1819" width="88" height="40" rx="6"/><text class="t" x="1146" y="1836">Integrar<tspan x="1146" dy="14.5">categorías</tspan></text></g>
<g id="n-elementos"><rect x="614" y="1923" width="153" height="41" rx="6"/><text class="t" x="690.5" y="1940.5">Elementos centrales<tspan x="690.5" dy="14.5">de análisis</tspan></text></g>
<g id="n-codificar-selectivamente"><rect x="915" y="1923" width="121" height="41" rx="6"/><text class="t" x="975.5" y="1940.5">Codificar<tspan x="975.5" dy="14.5">selectivamente</tspan></text></g>
<g id="n-temas-generales"><rect x="1080" y="1916" width="132" height="43" rx="6"/><text class="t" x="1146" y="1934.5">Temas generales<tspan x="1146" dy="14.5">y centrales</tspan></text></g>
<g id="n-tres-unidades"><rect x="886" y="2016" width="182" height="40" rx="6"/><text class="t" x="977" y="2033">3 Unidades significantes<tspan x="977" dy="14.5">relacionadas</tspan></text></g>
<g id="n-propiedades"><rect x="1091" y="2014" width="110" height="44" rx="6"/><text class="t" x="1146" y="2033">Propiedades<tspan x="1146" dy="14.5">(significados)</tspan></text></g>
<g id="n-codigo-tematico"><rect x="1109" y="2108" width="76" height="41" rx="6"/><text class="t" x="1147" y="2125.5">Código<tspan x="1147" dy="14.5">temático</tspan></text></g>
<g id="n-comparaciones"><rect x="916" y="2129" width="121" height="43" rx="6"/><text class="t" x="976.5" y="2147.5">Comparaciones<tspan x="976.5" dy="14.5">categóricas</tspan></text></g>
<g id="n-similitudes"><rect x="796" y="2237" width="92" height="26" rx="6"/><text class="t" x="842" y="2254.2">Similitudes</text></g>
<g id="n-diferencias"><rect x="931" y="2253" width="92" height="27" rx="6"/><text class="t" x="977" y="2270.7">Diferencias</text></g>
<g id="n-vinculos"><rect x="1058" y="2237" width="74" height="29" rx="6"/><text class="t" x="1095" y="2255.7">Vínculos</text></g>
<g id="n-varios-tipos"><rect x="253" y="2042" width="98" height="40" rx="6"/><text class="t" x="302" y="2059">Varios tipos<tspan x="302" dy="14.5">de datos</tspan></text></g>
<g id="n-revision-datos"><rect x="462" y="2041" width="74" height="42" rx="6"/><text class="t" x="499" y="2059">Revisión<tspan x="499" dy="14.5">de datos</tspan></text></g>
<g id="n-unidades-significantes"><rect x="1" y="2113" width="102" height="43" rx="6"/><text class="t" x="52" y="2131.5">Unidades<tspan x="52" dy="14.5">significantes</tspan></text></g>
<g id="n-division"><rect x="211" y="2114" width="132" height="42" rx="6"/><text class="t" x="277" y="2132">División de datos<tspan x="277" dy="14.5">en segmentos</tspan></text></g>
<g id="n-20-50"><rect x="140" y="2174" width="70" height="42" rx="6"/><text class="t" x="175" y="2192">20-50<tspan x="175" dy="14.5">Códigos</tspan></text></g>
<g id="n-codificacion-unidades"><rect x="338" y="2174" width="196" height="44" rx="6"/><text class="t" x="436" y="2193">Codificación de<tspan x="436" dy="14.5">unidades (Categorización)</tspan></text></g>
<g id="n-15-30"><rect x="1" y="2263" width="70" height="41" rx="6"/><text class="t" x="36" y="2280.5">15-30<tspan x="36" dy="14.5">Códigos</tspan></text></g>
<g id="n-reduccion"><rect x="225" y="2261" width="191" height="43" rx="6"/><text class="t" x="320.5" y="2279.5">Reducción de<tspan x="320.5" dy="14.5">categorías (Redundancia)</tspan></text></g>
<g id="n-5-10"><rect x="175" y="2332" width="60" height="40" rx="6"/><text class="t" x="205" y="2349">5-10<tspan x="205" dy="14.5">Temas</tspan></text></g>
<g id="n-agrupacion"><rect x="380" y="2331" width="160" height="43" rx="6"/><text class="t" x="460" y="2349.5">Agrupación de<tspan x="460" dy="14.5">categorías por temas</tspan></text></g>
<g id="n-interpretacion"><rect x="1416" y="1561" width="116" height="29" rx="6"/><text class="t" x="1474" y="1579.7">Interpretación</text></g>
<g id="n-generar-hipotesis"><rect x="1835" y="1578" width="136" height="42" rx="6"/><text class="t" x="1903" y="1596">Generar hipotésis<tspan x="1903" dy="14.5">y teorías</tspan></text></g>
<g id="n-interpretacion-relaciones"><rect x="1827" y="1732" width="156" height="42" rx="6"/><text class="t" x="1905" y="1750">Interpretación de<tspan x="1905" dy="14.5">relaciones intratema</tspan></text></g>
<g id="n-diversas"><rect x="1853" y="1851" width="108" height="40" rx="6"/><text class="t" x="1907" y="1868">Diversas<tspan x="1907" dy="14.5">herramientas</tspan></text></g>
<g id="n-codificacion-axial"><rect x="1568" y="1728" width="98" height="41" rx="6"/><text class="t" x="1617" y="1745.5">Codificación<tspan x="1617" dy="14.5">axial</tspan></text></g>
<g id="n-relaciones"><rect x="1553" y="1835" width="129" height="44" rx="6"/><text class="t" x="1617.5" y="1854">Relaciones entre<tspan x="1617.5" dy="14.5">categorías</tspan></text></g>
<g id="n-de-conjunto"><rect x="1423" y="2008" width="98" height="28" rx="6"/><text class="t" x="1472" y="2026.2">De conjunto</text></g>
<g id="n-causales"><rect x="1577" y="2013" width="77" height="28" rx="6"/><text class="t" x="1615.5" y="2031.2">Causales</text></g>
<g id="n-temporales"><rect x="1721" y="1998" width="96" height="29" rx="6"/><text class="t" x="1769" y="2016.7">Temporales</text></g>
<g id="n-cat-dentro"><rect x="1416" y="2121" width="114" height="42" rx="6"/><text class="t" x="1473" y="2139">Categoría esta<tspan x="1473" dy="14.5">dentro de otra</tspan></text></g>
<g id="n-cat-causa"><rect x="1563" y="2122" width="107" height="42" rx="6"/><text class="t" x="1616.5" y="2140">Categoría es<tspan x="1616.5" dy="14.5">causa de otra</tspan></text></g>
<g id="n-cat-precedida"><rect x="1697" y="2146" width="142" height="44" rx="6"/><text class="t" x="1768" y="2165">Categoria es<tspan x="1768" dy="14.5">precedida por otra</tspan></text></g>
<g id="n-codificacion-selectiva"><rect x="1209" y="2158" width="98" height="42" rx="6"/><text class="t" x="1258" y="2176">Codificación<tspan x="1258" dy="14.5">selectiva</tspan></text></g>
<g id="n-descripcion-cada"><rect x="1033" y="2334" width="116" height="43" rx="6"/><text class="t" x="1091" y="2352.5">Descripción de<tspan x="1091" dy="14.5">cada categoría</tspan></text></g>
<g id="n-significados"><rect x="1209" y="2343" width="98" height="44" rx="6"/><text class="t" x="1258" y="2362">Significados<tspan x="1258" dy="14.5">profundos</tspan></text></g>
<g id="n-presencia"><rect x="1431" y="2353" width="103" height="43" rx="6"/><text class="t" x="1482.5" y="2371.5">Presencia de<tspan x="1482.5" dy="14.5">categorías</tspan></text></g>
<g id="n-describir-ubicar"><rect x="1023" y="2464" width="136" height="43" rx="6"/><text class="t" x="1091" y="2482.5">Describir y ubicar<tspan x="1091" dy="14.5">categorías</tspan></text></g>
<g id="n-fenomeno"><rect x="1049" y="2586" width="87" height="27" rx="6"/><text class="t" x="1092.5" y="2603.7">Fenómeno</text></g>
<g id="n-analizar-significado"><rect x="1183" y="2462" width="150" height="43" rx="6"/><text class="t" x="1258" y="2480.5">Analizar significado<tspan x="1258" dy="14.5">categórico</tspan></text></g>
<g id="n-perspectiva-participantes"><rect x="1189" y="2611" width="130" height="43" rx="6"/><text class="t" x="1254" y="2629.5">Perspectiva de<tspan x="1254" dy="14.5">los participantes</tspan></text></g>
<g id="n-identificar-frecuencia"><rect x="1344" y="2476" width="161" height="43" rx="6"/><text class="t" x="1424.5" y="2494.5">Identificar frecuencia<tspan x="1424.5" dy="14.5">de aparición</tspan></text></g>
<g id="n-experiencias"><rect x="1520" y="2476" width="137" height="40" rx="6"/><text class="t" x="1588.5" y="2493">Experiencias poco<tspan x="1588.5" dy="14.5">comunes</tspan></text></g>
<g id="n-metaforas"><rect x="1878" y="2416" width="84" height="27" rx="6"/><text class="t" x="1920" y="2433.7">Metáforas</text></g>
<g id="n-identificar-aclarar"><rect x="1850" y="2532" width="144" height="43" rx="6"/><text class="t" x="1922" y="2550.5">Identificar/Aclarar<tspan x="1922" dy="14.5">significados</tspan></text></g>
<g id="n-participantes-2"><rect x="1868" y="2656" width="106" height="27" rx="6"/><text class="t" x="1921" y="2673.7">Participantes</text></g>
<g id="n-jerarquias"><rect x="2039" y="2441" width="88" height="28" rx="6"/><text class="t" x="2083" y="2459.2">Jerarquías</text></g>
<g id="n-aclarar"><rect x="2012" y="2543" width="138" height="43" rx="6"/><text class="t" x="2081" y="2561.5">Aclarar conceptos<tspan x="2081" dy="14.5">importantes</tspan></text></g>
<g id="n-problemas"><rect x="1982" y="2674" width="88" height="27" rx="6"/><text class="t" x="2026" y="2691.7">Problemas</text></g>
<g id="n-causas"><rect x="2048" y="2713" width="65" height="26" rx="6"/><text class="t" x="2080.5" y="2730.2">Causas</text></g>
<g id="n-efectos"><rect x="2102" y="2672" width="66" height="28" rx="6"/><text class="t" x="2135" y="2690.2">Efectos</text></g>
<g id="n-matrices"><rect x="1741" y="2513" width="74" height="27" rx="6"/><text class="t" x="1778" y="2530.7">Matrices</text></g>
<g id="n-establecer"><rect x="1685" y="2599" width="186" height="44" rx="6"/><text class="t" x="1778" y="2618">Establecer relaciones<tspan x="1778" dy="14.5">entre categorias o temas</tspan></text></g>
<g id="n-diagramas"><rect x="1538" y="2567" width="140" height="45" rx="6"/><text class="t" x="1608" y="2586.5">Diagramas/Mapas<tspan x="1608" dy="14.5">conceptuales</tspan></text></g>
<g id="n-historicos"><rect x="1442" y="2699" width="83" height="27" rx="6"/><text class="t" x="1483.5" y="2716.7">Históricos</text></g>
<g id="n-sociales"><rect x="1572" y="2715" width="72" height="27" rx="6"/><text class="t" x="1608" y="2732.7">Sociales</text></g>
<g id="n-relacionales"><rect x="1691" y="2690" width="102" height="27" rx="6"/><text class="t" x="1742" y="2707.7">Relacionales</text></g>
<g id="n-secuencias"><rect x="1437" y="2801" width="91" height="40" rx="6"/><text class="t" x="1482.5" y="2818">Secuencias<tspan x="1482.5" dy="14.5">de hechos</tspan></text></g>
<g id="n-grupos"><rect x="1525" y="2861" width="170" height="40" rx="6"/><text class="t" x="1610" y="2878">Grupos que conforman<tspan x="1610" dy="14.5">un ambiente</tspan></text></g>
<g id="n-vinculos-entre"><rect x="1661" y="2792" width="162" height="58" rx="6"/><text class="t" x="1742" y="2810.7">Vínculos entre<tspan x="1742" dy="14.5">conceptos, individuos</tspan><tspan x="1742" dy="14.5">o grupos</tspan></text></g>
<g id="n-otros"><rect x="2231" y="2267" width="128" height="44" rx="6"/><text class="t" x="2295" y="2286">Otros elementos<tspan x="2295" dy="14.5">de apoyo</tspan></text></g>
<g id="n-brindar"><rect x="2155" y="2389" width="126" height="41" rx="6"/><text class="t" x="2218" y="2406.5">Brindar claridad<tspan x="2218" dy="14.5">en el análisis</tspan></text></g>
<g id="n-fotografias"><rect x="2286" y="2413" width="94" height="30" rx="6"/><text class="t" x="2333" y="2432.2">Fotografías</text></g>
<g id="n-artefactos"><rect x="2340" y="2477" width="86" height="26" rx="6"/><text class="t" x="2383" y="2494.2">Artefactos</text></g>
<g id="n-dibujos"><rect x="2441" y="2473" width="68" height="28" rx="6"/><text class="t" x="2475" y="2491.2">Dibujos</text></g>
<g id="n-escritos"><rect x="2494" y="2436" width="70" height="26" rx="6"/><text class="t" x="2529" y="2453.2">Escritos</text></g>
<g id="n-calendarios"><rect x="2219" y="2544" width="96" height="26" rx="6"/><text class="t" x="2267" y="2561.2">Calendarios</text></g>
<g id="n-ubicar"><rect x="2175" y="2645" width="184" height="26" rx="6"/><text class="t" x="2267" y="2662.2">Ubicar acontencimientos</text></g>
<g id="n-espacio"><rect x="2128" y="2752" width="127" height="27" rx="6"/><text class="t" x="2191.5" y="2769.7">Espacio/Tiempo</text></g>
<g id="n-importancia-2"><rect x="2284" y="2751" width="100" height="28" rx="6"/><text class="t" x="2334" y="2769.2">Importancia</text></g>
</g>
<g id="authors"><rect x="12" y="2499" width="660" height="166" rx="10" fill="#FFFF99" stroke="#000" stroke-width="1.5"/><text class="y" x="342" y="2559">Luis Mauricio Vasquez Sequeda CC 1000938854</text><text class="y" x="342" y="2618">Melissa Higuera Araque CC 1014236774</text></g>
</svg>
